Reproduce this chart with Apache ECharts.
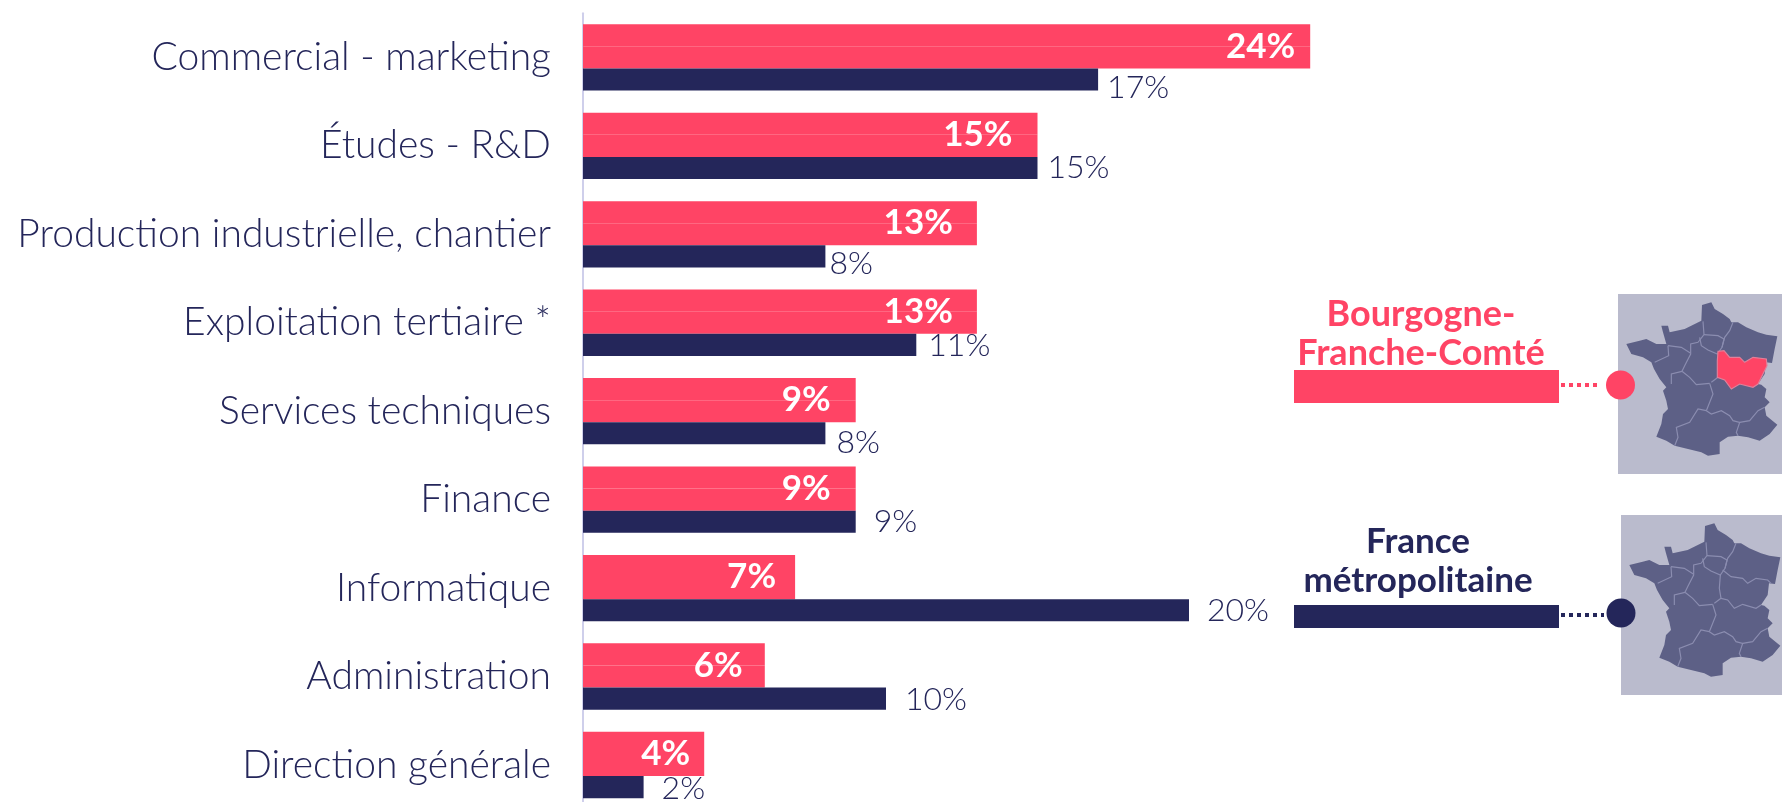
<!DOCTYPE html>
<html><head><meta charset="utf-8">
<style>html,body{margin:0;padding:0;background:#fff}#c{width:1782px;height:802px}</style>
<script src="https://cdn.jsdelivr.net/npm/echarts@6/dist/echarts.min.js"></script>
</head><body><div id="c"></div>
<script>
const categories = ['Commercial - marketing','Études - R&D','Production industrielle, chantier','Exploitation tertiaire *','Services techniques','Finance','Informatique','Administration','Direction générale'];
const regionValues = [24,15,13,13,9,9,7,6,4];
const franceValues = [17,15,8,11,8,9,20,10,2];
const regionName = ['Bourgogne-','Franche-Comté'];
const franceName = ['France','métropolitaine'];

// label nudges (px), kept apart from the values
const regionInset = [15,25,24,24,25,25,19,22,14];
const franceGapX = [9,10,4,12,11,18,18,19,18];
const franceGapY = [8,0,7,1,9,0,0,1,2];

const RED='#ff4465', NAVY='#24265a', MAPBG='#babbcd', MAPFILL='#5d6086', MAPLINE='#8b8db0';
const FONT='Lato, "Open Sans", sans-serif';

// decorative map of France, traced in a 3x frame
const outline=[[252,33],[280,25],[290,45],[315,60],[335,75],[340,85],[360,85],[385,100],[420,115],[445,122],[478,127],[470,165],[462,207],[444,205],[440,240],[420,270],[430,272],[445,285],[440,310],[455,325],[440,340],[445,365],[478,392],[455,420],[425,440],[390,430],[360,425],[330,428],[305,445],[305,480],[270,485],[250,475],[210,465],[170,455],[145,440],[115,428],[130,390],[135,360],[150,345],[145,320],[135,290],[145,280],[125,255],[108,225],[100,205],[75,190],[40,180],[25,150],[65,140],[85,135],[115,150],[145,150],[135,115],[130,95],[150,95],[155,115],[200,105],[250,80]];
const commonLines=[
 [[255,82],[258,122],[240,145],[218,150],[218,180],[200,215],[192,232],[215,250],[235,272],[275,268]],
 [[345,85],[335,110],[320,130],[312,160]],
 [[258,122],[300,125],[318,135],[312,160],[298,180],[270,168],[250,155],[245,130]],
 [[275,268],[285,300],[265,350]],
 [[150,155],[152,185],[110,205]],
 [[150,155],[190,160],[218,178]],
 [[160,270],[160,240],[192,232]],
 [[265,350],[240,345],[215,385],[175,400],[180,430],[170,455]],
 [[265,350],[280,360],[310,350],[335,365],[345,380],[365,385],[355,415],[360,425]],
 [[365,385],[395,380],[420,350],[440,340]],
 [[300,250],[280,265]]
];
const bfcLines=[
 [[305,165],[330,185],[365,190],[380,205],[405,190],[440,195],[450,205]],
 [[298,180],[295,220],[300,250]],
 [[300,250],[320,255],[340,280],[365,268],[405,280],[420,270]]
];
const bfc=[[300,172],[318,170],[335,190],[365,190],[380,205],[405,190],[445,195],[447,215],[420,270],[405,280],[365,270],[340,285],[320,258],[298,250],[298,200]];

function mapGroup(x,y,w,h,highlight){
  const ch=[
    {type:'rect',shape:{x:0,y:0,width:w*3,height:h*3},style:{fill:MAPBG}},
    {type:'polygon',shape:{points:outline},style:{fill:MAPFILL}}
  ];
  commonLines.concat(highlight?[]:bfcLines).forEach(p=>ch.push({type:'polyline',shape:{points:p},style:{fill:null,stroke:MAPLINE,lineWidth:3.5}}));
  if(highlight) ch.push({type:'polygon',shape:{points:bfc},style:{fill:RED,stroke:'#e0809a',lineWidth:3.5}});
  return {type:'group',x:x,y:y,scaleX:1/3,scaleY:1/3,children:ch};
}
function legendText(lines,cx,y1,y2,color,size){
  return lines.map((t,i)=>({type:'text',x:cx,y:i?y2:y1,style:{text:t,fill:color,font:'700 '+size+'px '+FONT,textAlign:'center',textVerticalAlign:'middle'}}));
}
function dots(x1,x2,y,color){
  return {type:'line',shape:{x1:x1,y1:y,x2:x2,y2:y},style:{stroke:color,lineWidth:4,lineDash:[4,4]}};
}

const chart=echarts.init(document.getElementById('c'),null,{renderer:'canvas'});
chart.setOption({
  animation:false,
  grid:{left:583,top:13.2,width:909,height:796,containLabel:false,outerBoundsMode:'none'},
  xAxis:{type:'value',min:0,max:30,show:false},
  yAxis:{type:'category',inverse:true,data:categories,
    axisTick:{show:false},
    axisLine:{lineStyle:{color:'#cfcfeb',width:2}},
    axisLabel:{margin:32,color:NAVY,fontFamily:FONT,fontSize:39,fontWeight:300}},
  series:[
    {type:'bar',name:'Bourgogne-Franche-Comté',barGap:0,barCategoryGap:'25%',z:2,
      itemStyle:{color:RED},
      data:regionValues.map((v,i)=>({value:v,label:{show:true,position:'insideRight',distance:regionInset[i],offset:[0,11],
        formatter:'{c}%',color:'#fff',fontFamily:FONT,fontWeight:700,fontSize:35}}))},
    {type:'bar',name:'Bourgogne-Franche-Comté (2)',z:1,itemStyle:{color:RED},data:regionValues},
    {type:'bar',name:'France métropolitaine',z:2,itemStyle:{color:NAVY},
      data:franceValues.map((v,i)=>({value:v,label:{show:true,position:'right',distance:franceGapX[i],offset:[0,franceGapY[i]],
        formatter:'{c}%',color:NAVY,fontFamily:FONT,fontWeight:300,fontSize:32}}))}
  ],
  graphic:{elements:[
    mapGroup(1618,294,164,180,true),
    mapGroup(1621,515,161,180,false),
    {type:'rect',shape:{x:1294,y:370,width:265,height:33},style:{fill:RED}},
    {type:'rect',shape:{x:1294,y:605,width:265,height:23},style:{fill:NAVY}},
    dots(1561,1600,385,RED),
    dots(1561,1604,615,NAVY),
    {type:'circle',shape:{cx:1620.5,cy:385,r:14.5},style:{fill:RED},z:10},
    {type:'circle',shape:{cx:1621,cy:613,r:14.5},style:{fill:NAVY},z:10},
    ...legendText(regionName,1421,314,353,RED,36),
    ...legendText(franceName,1418,542,581,NAVY,35)
  ]}
});
</script></body></html>
